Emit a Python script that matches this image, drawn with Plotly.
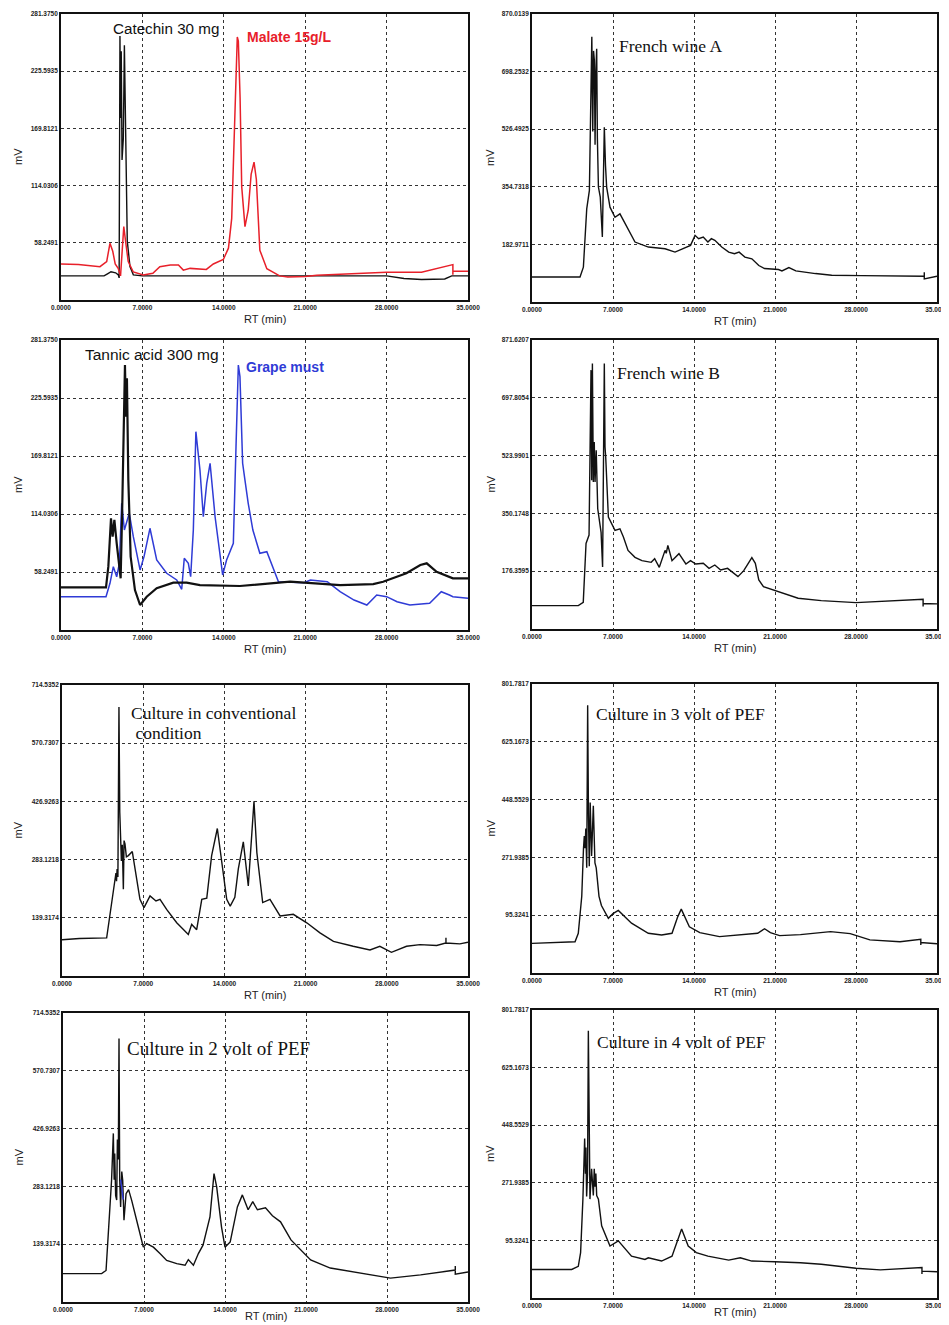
import plotly.graph_objects as go

# page has an 8px body margin: draw in a slightly smaller figure and shift coordinates
OFF = 8
W, H = 949 - OFF, 1325 - OFF

# ---------------- data ----------------
rt_ticks = [0, 7, 14, 21, 28, 35]
rt_labels = ["0.0000", "7.0000", "14.0000", "21.0000", "28.0000", "35.0000"]

ticks_std = [58.2491, 114.0306, 169.8121, 225.5935, 281.3750]
labels_std = ["58.2491", "114.0306", "169.8121", "225.5935", "281.3750"]
ticks_wineA = [182.9711, 354.7318, 526.4925, 698.2532, 870.0139]
labels_wineA = ["182.9711", "354.7318", "526.4925", "698.2532", "870.0139"]
ticks_wineB = [176.3595, 350.1748, 523.9901, 697.8054, 871.6207]
labels_wineB = ["176.3595", "350.1748", "523.9901", "697.8054", "871.6207"]
ticks_cult = [139.3174, 283.1218, 426.9263, 570.7307, 714.5352]
labels_cult = ["139.3174", "283.1218", "426.9263", "570.7307", "714.5352"]
ticks_pef = [95.3241, 271.9385, 448.5529, 625.1673, 801.7817]
labels_pef = ["95.3241", "271.9385", "448.5529", "625.1673", "801.7817"]

catechin_rt = [0, 3.7, 4.0, 4.3, 4.7, 4.93, 5.0, 5.07, 5.12, 5.18, 5.25, 5.36, 5.45, 5.52, 5.6, 5.7, 5.93, 6.22, 7.0, 28.0, 29.5, 31.0, 33.0, 33.6, 35.0]
catechin_mv = [26, 26, 28, 30, 29, 27, 24, 260, 180, 245, 139, 160, 251, 180, 120, 60, 35, 27, 26, 26, 23.5, 22.5, 23, 26, 26]

malate_rt = [0, 1.5, 3.35, 3.93, 4.21, 4.45, 4.66, 4.93, 5.12, 5.25, 5.4, 5.55, 5.78, 6.22, 7.07, 7.9, 8.5, 9.4, 10.1, 10.52, 11.1, 12.5, 13.1, 13.96, 14.4, 14.68, 14.96, 15.16, 15.25, 15.4, 15.54, 15.82, 16.1, 16.35, 16.6, 16.8, 17.1, 17.7, 18.8, 19.5, 21.0, 22.0, 25.0, 28.0, 31.0, 33.7, 33.7, 33.7, 35.0]
malate_mv = [37.6, 37, 35, 40, 57.8, 50, 37.6, 33, 26, 45, 74, 60, 40, 29.8, 26.8, 28.5, 35, 36.6, 36.6, 31.6, 33.3, 32.3, 37.6, 42, 53, 82, 196, 259, 255, 200, 113, 74, 90, 125, 137, 120, 51, 33, 26, 25, 25.5, 26.5, 28, 29.5, 29.5, 37, 27, 30.5, 30.5]

tannic_rt = [0, 3.87, 4.07, 4.3, 4.44, 4.59, 4.79, 5.02, 5.13, 5.25, 5.36, 5.5, 5.59, 5.67, 5.79, 5.99, 6.36, 6.8, 7.37, 8.23, 9.66, 10.8, 11.95, 14.24, 15.39, 19.7, 24.0, 26.85, 27.7, 29.7, 30.9, 31.45, 32.3, 33.7, 35.0]
tannic_mv = [43.5, 43.5, 63.4, 109.9, 92.2, 108.3, 85.8, 66.6, 52.2, 111.4, 162.8, 257.3, 207.6, 244.5, 146.7, 72.9, 40.9, 26.5, 34.5, 42.6, 48, 48, 45.7, 44.8, 44.8, 48.9, 45.7, 46.6, 48.9, 57, 65, 66.6, 58.5, 52.2, 52.2]

grape_rt = [0, 3.87, 4.21, 4.5, 4.79, 5.02, 5.22, 5.45, 5.87, 6.22, 6.8, 7.14, 7.65, 8.23, 9.09, 9.95, 10.38, 10.6, 10.95, 11.15, 11.38, 11.6, 11.95, 12.24, 12.53, 12.82, 13.25, 13.9, 14.24, 14.82, 15.05, 15.25, 15.39, 15.62, 15.82, 16.1, 16.5, 17.1, 17.7, 18.1, 18.7, 20.9, 21.45, 22.9, 24.0, 25.2, 26.3, 27.15, 28.0, 28.9, 30.0, 31.7, 32.7, 33.4, 33.7, 35.0]
grape_mv = [34.5, 34.5, 47.4, 63.4, 53.7, 66.6, 124.3, 98.6, 114.7, 92.2, 60.2, 73, 100.3, 69.8, 57, 50.6, 41.6, 71.4, 66.6, 53.7, 98.6, 193.2, 156.4, 111.4, 143.5, 162.8, 111.4, 55.4, 69.8, 85.8, 178.8, 257.3, 246.1, 162.8, 146.7, 124.3, 98.6, 76.2, 77.8, 66.6, 48.9, 48, 50.6, 48.9, 39.3, 31.3, 26.5, 36.1, 34.5, 29.7, 26.5, 28.1, 39.3, 36.1, 34.5, 33]

wineA_rt = [0, 4.15, 4.44, 4.73, 4.96, 5.1, 5.17, 5.25, 5.32, 5.39, 5.45, 5.52, 5.59, 5.65, 5.74, 5.9, 6.0, 6.08, 6.17, 6.25, 6.35, 6.45, 6.74, 7.17, 7.6, 8.2, 8.9, 10.06, 11.5, 12.36, 13.1, 13.7, 14.09, 14.4, 14.8, 15.2, 15.5, 15.8, 16.4, 17.0, 17.5, 17.9, 18.4, 19.0, 19.6, 20.1, 21.3, 21.6, 22.2, 22.8, 24.5, 25.9, 28.5, 33.9, 33.9, 33.9, 35.0]
wineA_mv = [85.7, 85.7, 115, 289, 344, 600, 802, 520, 760, 731, 480, 700, 766, 500, 354, 324, 260, 205, 380, 532, 420, 354, 294, 264, 274, 235, 190, 175, 170, 160, 170, 180, 210, 200, 205, 190, 200, 195, 175, 160, 155, 160, 145, 140, 120, 111, 108, 104, 114, 104, 96, 91, 90, 88, 100, 80, 88]

wineB_rt = [0, 4.0, 4.43, 4.67, 4.93, 5.05, 5.1, 5.16, 5.22, 5.3, 5.38, 5.45, 5.55, 5.68, 5.97, 6.1, 6.18, 6.25, 6.31, 6.37, 6.6, 7.17, 7.6, 7.9, 8.3, 8.9, 9.5, 10.3, 10.6, 11.0, 11.5, 11.6, 11.74, 12.1, 12.7, 13.3, 13.7, 14.15, 14.8, 15.3, 15.8, 16.3, 16.9, 17.4, 17.8, 18.3, 18.7, 19.0, 19.3, 19.6, 20.0, 21.0, 22.0, 23.0, 25.0, 28.0, 33.8, 33.8, 33.8, 35.0]
wineB_mv = [72.8, 72.8, 83, 260, 285, 600, 781, 450, 801, 445, 565, 445, 540, 364, 293, 189, 500, 801, 550, 520, 339, 299, 304, 279, 239, 218, 208, 203, 214, 188, 239, 230, 254, 208, 229, 198, 208, 198, 200, 185, 195, 180, 185, 172, 160, 178, 200, 217, 200, 150, 130, 118, 105, 95, 88, 82, 92, 70, 79, 78]

conv_rt = [0, 1.5, 3.85, 4.28, 4.57, 4.65, 4.7, 4.75, 4.82, 4.91, 4.98, 5.05, 5.12, 5.2, 5.29, 5.35, 5.43, 5.55, 5.72, 6.06, 6.29, 6.72, 7.07, 7.59, 8.1, 8.45, 9.02, 9.89, 10.89, 11.18, 11.61, 12.05, 12.48, 12.9, 13.39, 13.62, 14.2, 14.5, 14.9, 15.2, 15.63, 16.06, 16.55, 16.8, 17.3, 17.93, 18.8, 19.94, 21.1, 22.24, 23.4, 25.1, 26.55, 27.4, 28.4, 29.7, 30.86, 32.3, 33.1, 33.1, 33.1, 34.3, 35.0]
conv_mv = [85, 88, 89.6, 177, 227, 250, 230, 260, 240, 660, 400, 300, 280, 320, 210, 330, 322, 290, 293, 303, 260, 185, 164.5, 193.5, 181, 185, 160, 127, 98, 123, 110, 185, 188, 293, 360, 310, 185, 168, 190, 260, 327, 218, 427, 300, 177, 185, 144, 148, 127, 102, 81, 69, 60, 69, 54, 69, 73, 71, 77, 90, 77, 75, 79]

v3_rt = [0, 3.72, 4.0, 4.3, 4.45, 4.52, 4.58, 4.65, 4.73, 4.81, 4.88, 4.95, 5.03, 5.1, 5.15, 5.3, 5.36, 5.44, 5.55, 5.79, 6.0, 6.6, 7.0, 7.46, 8.6, 10.05, 11.2, 12.1, 12.6, 12.9, 13.6, 14.5, 16.2, 19.5, 20.1, 20.6, 21.4, 23.2, 25.8, 27.5, 29.2, 31.8, 33.6, 33.6, 33.6, 35.0]
v3_mv = [9.2, 14, 40, 153, 300, 337, 300, 360, 240, 737, 400, 245, 440, 300, 276, 430, 300, 255, 240, 153, 125, 86, 100, 110, 71, 40, 35, 40, 91, 114, 60, 42, 30, 40, 54, 42, 33, 36, 45, 39, 20, 14, 22, 4, 12, 8]

v2_rt = [0, 3.34, 3.72, 4.06, 4.2, 4.35, 4.42, 4.47, 4.55, 4.64, 4.7, 4.78, 4.84, 4.9, 4.98, 5.08, 5.16, 5.27, 5.45, 5.67, 5.93, 6.51, 6.94, 7.23, 7.81, 8.38, 8.96, 9.83, 10.55, 10.83, 11.27, 11.7, 12.1, 12.7, 13.05, 13.28, 13.7, 14.0, 14.45, 15.07, 15.5, 16.0, 16.4, 16.8, 17.5, 18.1, 18.8, 19.7, 21.4, 23.1, 25.7, 28.3, 30.9, 33.9, 33.9, 33.9, 35.0]
v2_mv = [66, 66, 74, 216, 300, 415, 300, 365, 260, 249, 400, 350, 651, 300, 232, 320, 298, 199, 265, 275, 249, 182, 132, 141, 132, 116, 99, 91, 87, 101, 87, 116, 137, 207, 315, 282, 182, 132, 145, 232, 262, 225, 245, 225, 230, 210, 195, 150, 100, 80, 68, 55, 63, 75, 85, 65, 70]
v2_blue_rt = [4.98, 5.05, 5.12, 5.2]
v2_blue_mv = [300, 285, 265, 250]

v4_rt = [0, 3.43, 4.0, 4.2, 4.4, 4.5, 4.55, 4.62, 4.66, 4.72, 4.8, 4.87, 4.94, 5.01, 5.15, 5.22, 5.3, 5.38, 5.45, 5.52, 5.59, 5.74, 6.02, 6.74, 7.46, 8.6, 9.76, 10.05, 11.2, 12.1, 12.64, 12.93, 13.5, 14.2, 15.2, 17.0, 18.0, 19.0, 21.0, 23.2, 25.0, 26.6, 28.0, 30.1, 33.7, 33.7, 33.7, 35.0]
v4_mv = [6.2, 6.2, 16, 58, 222, 330, 408, 300, 380, 230, 300, 738, 400, 222, 315, 260, 233, 315, 260, 300, 233, 222, 140, 78, 94, 47, 37, 42, 32, 47, 99, 130, 78, 58, 47, 35, 42, 32, 30, 27, 22, 14.5, 10, 5, 12, -8, 1, -1]

# ---------------- layout helpers ----------------
# panel boxes in page pixels: (left, right, top, bottom)
boxes = [
    (61, 468, 14, 300), (532, 937, 14, 302),
    (61, 468, 340, 630), (532, 937, 340, 629),
    (62, 468, 685, 976), (532, 937, 684, 973),
    (63, 468, 1013, 1302), (532, 937, 1010, 1298),
]
yranges = [
    [2.4676, 281.375], [11.2104, 870.0139],
    [2.4676, 281.375], [2.5442, 871.6207],
    [-4.4871, 714.5352], [-81.2903, 801.7817],
    [-4.4871, 714.5352], [-81.2903, 801.7817],
]
yticks = [(ticks_std, labels_std), (ticks_wineA, labels_wineA),
          (ticks_std, labels_std), (ticks_wineB, labels_wineB),
          (ticks_cult, labels_cult), (ticks_pef, labels_pef),
          (ticks_cult, labels_cult), (ticks_pef, labels_pef)]


def fx(px):
    return (px - OFF) / W


def fy(py):
    return 1 - (py - OFF) / H


BLACK = "#111111"
RED = "#e8202a"
BLUE = "#2f3bd6"

fig = go.Figure()


def add(panel, x, y, color, width=1.3):
    n = "" if panel == 1 else str(panel)
    fig.add_trace(go.Scatter(x=x, y=y, mode="lines", xaxis="x" + n, yaxis="y" + n,
                             line=dict(color=color, width=width), showlegend=False,
                             hoverinfo="skip"))


add(1, catechin_rt, catechin_mv, BLACK, 1.4)
add(1, malate_rt, malate_mv, RED, 1.5)
add(2, wineA_rt, wineA_mv, BLACK, 1.4)
add(3, grape_rt, grape_mv, BLUE, 1.5)
add(3, tannic_rt, tannic_mv, BLACK, 2.2)
add(4, wineB_rt, wineB_mv, BLACK, 1.4)
add(5, conv_rt, conv_mv, BLACK, 1.4)
add(6, v3_rt, v3_mv, BLACK, 1.4)
add(7, v2_rt, v2_mv, BLACK, 1.4)
add(7, v2_blue_rt, v2_blue_mv, BLUE, 1.4)
add(8, v4_rt, v4_mv, BLACK, 1.4)

tickfont = dict(family="Liberation Sans", size=6.5, color="#222222", weight="bold")
layout = dict(width=W, height=H, margin=dict(l=0, r=0, t=0, b=0, autoexpand=False),
              paper_bgcolor="white", plot_bgcolor="white", showlegend=False)
annotations = []

for i, (l, r, t, b) in enumerate(boxes):
    n = "" if i == 0 else str(i + 1)
    tv, tt = yticks[i]
    layout["xaxis" + n] = dict(
        domain=[fx(l), fx(r)], anchor="y" + n, range=[0, 35], automargin=False,
        tickvals=rt_ticks, ticktext=rt_labels, tickfont=tickfont, ticks="",
        ticklabeloverflow="allow",
        showgrid=True, gridcolor="#333333", griddash="dot", gridwidth=1.3,
        showline=True, mirror=True, linecolor=BLACK, linewidth=1.8, zeroline=False)
    layout["yaxis" + n] = dict(
        domain=[fy(b), fy(t)], anchor="x" + n, range=yranges[i], automargin=False,
        tickvals=tv, ticktext=tt, tickfont=tickfont, ticks="",
        ticklabeloverflow="allow",
        showgrid=True, gridcolor="#333333", griddash="dot", gridwidth=1.3,
        showline=True, mirror=True, linecolor=BLACK, linewidth=1.8, zeroline=False)
    # axis titles
    dy = 19 if b < 1200 else 14
    annotations.append(dict(x=fx((l + r) / 2), y=fy(b + dy), xref="paper", yref="paper",
                            text="RT (min)", showarrow=False, xanchor="center", yanchor="middle",
                            font=dict(family="Liberation Sans", size=11, color="#222222")))
    mvx = 18 if l < 100 else 490
    annotations.append(dict(x=fx(mvx), y=fy((t + b) / 2), xref="paper", yref="paper",
                            text="mV", showarrow=False, textangle=-90, xanchor="center", yanchor="middle",
                            font=dict(family="Liberation Sans", size=11, color="#222222")))

labels = [
    ("Catechin 30 mg", 111, 29, "Liberation Sans", 15.2, BLACK),
    ("<b>Malate 15g/L</b>", 245, 37, "Liberation Sans", 14, RED),
    ("Tannic acid 300 mg", 83, 355, "Liberation Sans", 15.5, BLACK),
    ("<b>Grape must</b>", 244, 367, "Liberation Sans", 14, BLUE),
    ("French wine A", 617, 46, "Liberation Serif", 17.5, BLACK),
    ("French wine B", 615, 373, "Liberation Serif", 17.5, BLACK),
    ("Culture in conventional", 129, 713, "Liberation Serif", 17.5, BLACK),
    (" condition", 129, 733, "Liberation Serif", 17.5, BLACK),
    ("Culture in 3 volt of PEF", 594, 714, "Liberation Serif", 17.5, BLACK),
    ("Culture in 2 volt of PEF", 125, 1048, "Liberation Serif", 19, BLACK),
    ("Culture in 4 volt of PEF", 595, 1042, "Liberation Serif", 17.5, BLACK),
]
for text, px, py, fam, size, col in labels:
    annotations.append(dict(x=fx(px), y=fy(py), xref="paper", yref="paper", text=text,
                            showarrow=False, xanchor="left", yanchor="middle",
                            font=dict(family=fam, size=size, color=col)))

layout["annotations"] = annotations
fig.update_layout(**layout)
fig.write_html("out.html")
